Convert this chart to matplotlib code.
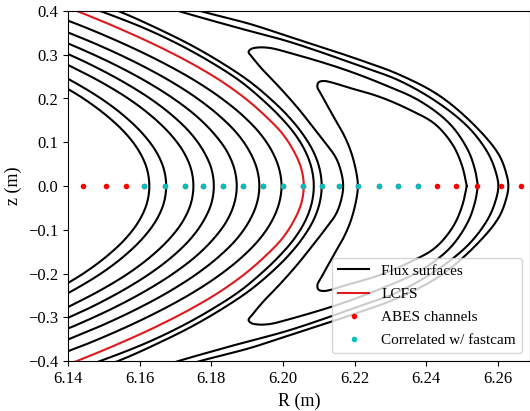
import numpy as np
import matplotlib
matplotlib.use("Agg")
import matplotlib.pyplot as plt

plt.rcParams['font.family'] = ['Liberation Serif', 'DejaVu Serif']

# z grid (m) for the upper half of the nested surfaces; the cut is up-down symmetric
z_grid = [0.00, 0.04, 0.08, 0.12, 0.16, 0.20, 0.24, 0.28, 0.32, 0.36, 0.40, 0.44]

# R (m) of each closed surface at z_grid (inner -> outer)
surf_1 = [6.1627, 6.1620, 6.1598, 6.1561, 6.1509, 6.1443, 6.1362]
surf_2 = [6.1674, 6.1667, 6.1645, 6.1608, 6.1557, 6.1492, 6.1411, 6.1316]
surf_3 = [6.1750, 6.1743, 6.1721, 6.1684, 6.1633, 6.1568, 6.1487, 6.1392]
surf_4 = [6.1807, 6.1800, 6.1778, 6.1743, 6.1693, 6.1629, 6.1550, 6.1457, 6.1350]
surf_5 = [6.1871, 6.1864, 6.1843, 6.1807, 6.1758, 6.1694, 6.1616, 6.1524, 6.1417, 6.1297]
surf_6 = [6.1934, 6.1927, 6.1906, 6.1872, 6.1823, 6.1761, 6.1685, 6.1595, 6.1491, 6.1373]
surf_7 = [6.1996, 6.1989, 6.1969, 6.1936, 6.1889, 6.1829, 6.1756, 6.1669, 6.1569, 6.1456, 6.1329]
lcfs = [6.2058, 6.2051, 6.2030, 6.1998, 6.1951, 6.1895, 6.1827, 6.1745, 6.1650, 6.1543, 6.1425, 6.1295]
sol_1 = [6.2086, 6.2080, 6.2062, 6.2032, 6.1990, 6.1939, 6.1880, 6.1805, 6.1718, 6.1615, 6.1490, 6.1350]
sol_2 = [6.2108, 6.2102, 6.2084, 6.2054, 6.2014, 6.1964, 6.1905, 6.1832, 6.1748, 6.1650, 6.1540, 6.1400]

# island surfaces, upper half: inner midplane -> tip -> outer midplane
isl_1_R = [6.2168, 6.2163, 6.2148, 6.2112, 6.2075, 6.2039, 6.1992, 6.1944, 6.1916, 6.1904,
           6.1911, 6.1930, 6.1964, 6.2020, 6.2159, 6.2271, 6.2382, 6.2466, 6.2516, 6.2536, 6.2544]
isl_1_z = [0.0, 0.0297, 0.0640, 0.1051, 0.1440, 0.1806, 0.2240, 0.2651, 0.2926, 0.3063,
           0.3131, 0.3166, 0.3154, 0.3040, 0.2697, 0.2354, 0.1943, 0.1417, 0.0823, 0.0366, 0.0]
isl_2_R = [6.2209, 6.2205, 6.2190, 6.2170, 6.2151, 6.2126, 6.2106, 6.2096, 6.2099, 6.2114,
           6.2187, 6.2271, 6.2355, 6.2424, 6.2474, 6.2500, 6.2513]
isl_2_z = [0.0, 0.0297, 0.0777, 0.1166, 0.1440, 0.1806, 0.2103, 0.2263, 0.2366, 0.2400,
           0.2240, 0.2034, 0.1737, 0.1417, 0.0937, 0.0457, 0.0]

# outer open surfaces, upper half: top edge -> midplane
out_1_R = [6.1657, 6.1713, 6.1866, 6.2020, 6.2215, 6.2327, 6.2438, 6.2522, 6.2575, 6.2597, 6.2601]
out_1_z = [0.4137, 0.3989, 0.3634, 0.3291, 0.2743, 0.2400, 0.1874, 0.1303, 0.0709, 0.0229, 0.0]
out_2_R = [6.1713, 6.1774, 6.1908, 6.2020, 6.2215, 6.2327, 6.2438, 6.2539, 6.2603, 6.2625, 6.2629]
out_2_z = [0.4137, 0.3989, 0.3703, 0.3406, 0.2880, 0.2537, 0.2057, 0.1349, 0.0709, 0.0229, 0.0]

# ABES channel positions on the midplane
abes_R = [6.1443, 6.1506, 6.1561, 6.1613, 6.1671, 6.1726, 6.1778, 6.1833, 6.1889, 6.1945,
          6.2001, 6.2055, 6.2108, 6.2157, 6.2210, 6.2269, 6.2322, 6.2378, 6.2429, 6.2482,
          6.2542, 6.2608, 6.2663]
corr_R = [6.1613, 6.1671, 6.1726, 6.1778, 6.1833, 6.1889, 6.1945, 6.2001,
          6.2055, 6.2108, 6.2157, 6.2210, 6.2269, 6.2322, 6.2378]


def mirror(R, z):
    # upper half path -> full path (lower half is the mirror image)
    R = np.asarray(R)
    z = np.asarray(z)
    if z[0] != 0:
        return np.concatenate([R, R[::-1][1:]]), np.concatenate([z, -z[::-1][1:]])
    return np.concatenate([R[::-1], R[1:]]), np.concatenate([-z[::-1], z[1:]])


def smooth(R, z, n=12):
    # centripetal catmull-rom through the read points, in screen-like units
    sx, sz = 3583.0, 437.5
    P = np.column_stack([np.asarray(R) * sx, np.asarray(z) * sz])
    P = np.vstack([2 * P[0] - P[1], P, 2 * P[-1] - P[-2]])
    out = []
    for i in range(1, len(P) - 2):
        p0, p1, p2, p3 = P[i - 1], P[i], P[i + 1], P[i + 2]
        t0 = 0.0
        t1 = t0 + np.linalg.norm(p1 - p0) ** 0.5
        t2 = t1 + np.linalg.norm(p2 - p1) ** 0.5
        t3 = t2 + np.linalg.norm(p3 - p2) ** 0.5
        t = np.linspace(t1, t2, n, endpoint=False)[:, None]
        a1 = (t1 - t) / (t1 - t0) * p0 + (t - t0) / (t1 - t0) * p1
        a2 = (t2 - t) / (t2 - t1) * p1 + (t - t1) / (t2 - t1) * p2
        a3 = (t3 - t) / (t3 - t2) * p2 + (t - t2) / (t3 - t2) * p3
        b1 = (t2 - t) / (t2 - t0) * a1 + (t - t0) / (t2 - t0) * a2
        b2 = (t3 - t) / (t3 - t1) * a2 + (t - t1) / (t3 - t1) * a3
        out.append((t2 - t) / (t2 - t1) * b1 + (t - t1) / (t2 - t1) * b2)
    out.append(P[-2][None, :])
    out = np.vstack(out)
    return out[:, 0] / sx, out[:, 1] / sz


fig = plt.figure(figsize=(5.3, 4.11), dpi=100)
ax = fig.add_axes([68 / 530, 50 / 411, 461.5 / 530, 350 / 411])

lw = 1.5
curves = []
for s in [surf_1, surf_2, surf_3, surf_4, surf_5, surf_6, surf_7, sol_1, sol_2]:
    curves.append(mirror(s, z_grid[:len(s)]))
for R, z in [(isl_1_R, isl_1_z), (isl_2_R, isl_2_z), (out_1_R, out_1_z), (out_2_R, out_2_z)]:
    curves.append(mirror(R, z))

for i, (R, z) in enumerate(curves):
    r, zz = smooth(R, z)
    ax.plot(r, zz, color='k', lw=lw, label='Flux surfaces' if i == 0 else None)

R, z = mirror(lcfs, z_grid[:len(lcfs)])
r, zz = smooth(R, z)
ax.plot(r, zz, color='#e0191c', lw=lw, label='LCFS')

ax.plot(abes_R, np.zeros(len(abes_R)), 'o', color='red', ms=4, mec='none', label='ABES channels')
ax.plot(corr_R, np.zeros(len(corr_R)), 'o', color='c', ms=4, mec='none', label='Correlated w/ fastcam')

ax.set_xlim(6.14, 6.2688)
ax.set_ylim(-0.4, 0.4)
ax.set_xticks([6.14, 6.16, 6.18, 6.20, 6.22, 6.24, 6.26])
ax.set_xticklabels(['6.14', '6.16', '6.18', '6.20', '6.22', '6.24', '6.26'])
ax.tick_params(labelsize=12)
ax.set_xlabel('R (m)', fontsize=13)
ax.set_ylabel('z (m)', fontsize=13)
ax.legend(loc='lower right', fontsize=11, labelspacing=0.62)

fig.savefig('out.png', dpi=100)
